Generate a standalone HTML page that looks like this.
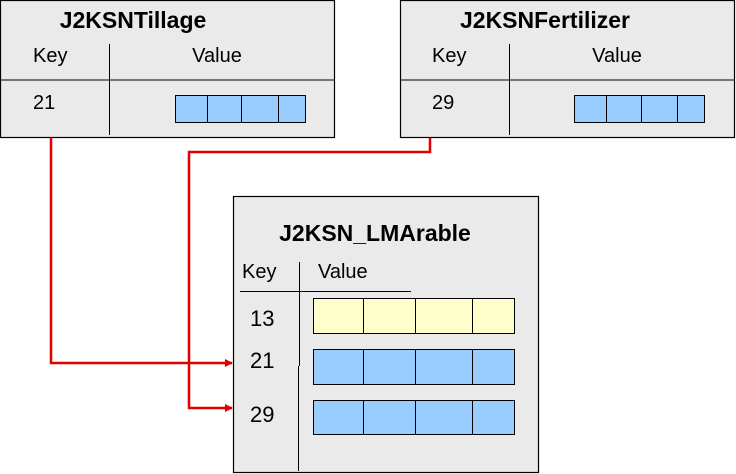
<!DOCTYPE html>
<html><head><meta charset="utf-8"><style>
html,body{margin:0;padding:0;background:#fff;width:736px;height:474px;overflow:hidden}
svg text{font-family:"Liberation Sans",Arial,sans-serif;fill:#000}
</style></head><body>
<svg width="736" height="474" viewBox="0 0 736 474" xmlns="http://www.w3.org/2000/svg">
<defs>
<marker id="ah" markerWidth="8" markerHeight="8" refX="7" refY="4" orient="auto" markerUnits="userSpaceOnUse">
<path d="M0,0 L8,4 L0,8 z" fill="#e00000"/></marker>
</defs>
<g>
<rect x="0.5" y="0.5" width="334" height="137" fill="#eaeaea" stroke="#000" stroke-width="1.2"/>
<text x="133" y="28" font-size="23" font-weight="bold" text-anchor="middle">J2KSNTillage</text>
<text x="33" y="62" font-size="20">Key</text>
<text x="217" y="62" font-size="20" text-anchor="middle">Value</text>
<line x1="0" y1="80" x2="335" y2="80" stroke="#000"/>
<line x1="109.5" y1="44" x2="109.5" y2="135" stroke="#000"/>
<text x="33" y="109" font-size="20">21</text>
<g stroke="#000" fill="#99ccff">
<rect x="175.5" y="95.5" width="32" height="27"/><rect x="207.5" y="95.5" width="34" height="27"/><rect x="241.5" y="95.5" width="37" height="27"/><rect x="278.5" y="95.5" width="27" height="27"/>
</g></g>
<g>
<rect x="400.5" y="0.5" width="334" height="137" fill="#eaeaea" stroke="#000" stroke-width="1.2"/>
<text x="545" y="28" font-size="23" font-weight="bold" text-anchor="middle">J2KSNFertilizer</text>
<text x="432" y="62" font-size="20">Key</text>
<text x="617" y="62" font-size="20" text-anchor="middle">Value</text>
<line x1="400" y1="80" x2="735" y2="80" stroke="#000"/>
<line x1="509.5" y1="44" x2="509.5" y2="135" stroke="#000"/>
<text x="432" y="109" font-size="20">29</text>
<g stroke="#000" fill="#99ccff">
<rect x="574.5" y="95.5" width="32" height="27"/><rect x="606.5" y="95.5" width="35" height="27"/><rect x="641.5" y="95.5" width="36" height="27"/><rect x="677.5" y="95.5" width="27" height="27"/>
</g></g>
<g>
<rect x="233.5" y="196.5" width="305" height="276" fill="#eaeaea" stroke="#000" stroke-width="1.2"/>
<text x="375" y="241" font-size="23" font-weight="bold" text-anchor="middle">J2KSN_LMArable</text>
<text x="242" y="278" font-size="20">Key</text>
<text x="318" y="278" font-size="20">Value</text>
<line x1="240" y1="291.5" x2="411" y2="291.5" stroke="#000"/>
<line x1="299.5" y1="262" x2="299.5" y2="366" stroke="#000"/>
<line x1="298.5" y1="366" x2="298.5" y2="471" stroke="#000"/>
<text x="250" y="326" font-size="22">13</text>
<text x="250" y="368" font-size="22">21</text>
<text x="250" y="422" font-size="22">29</text>
<g stroke="#000" fill="#ffffcc">
<rect x="313.5" y="298.5" width="50" height="35"/><rect x="363.5" y="298.5" width="52" height="35"/><rect x="415.5" y="298.5" width="57" height="35"/><rect x="472.5" y="298.5" width="42" height="35"/>
</g>
<g stroke="#000" fill="#99ccff">
<rect x="313.5" y="349.5" width="50" height="35"/><rect x="363.5" y="349.5" width="52" height="35"/><rect x="415.5" y="349.5" width="57" height="35"/><rect x="472.5" y="349.5" width="42" height="35"/>
</g>
<g stroke="#000" fill="#99ccff">
<rect x="313.5" y="400.5" width="50" height="34"/><rect x="363.5" y="400.5" width="52" height="34"/><rect x="415.5" y="400.5" width="57" height="34"/><rect x="472.5" y="400.5" width="42" height="34"/>
</g></g>
<path d="M51,138 L51,363 L232,363" fill="none" stroke="#e00000" stroke-width="2.5" marker-end="url(#ah)"/>
<path d="M430,138 L430,152 L189,152 L189,408 L232,408" fill="none" stroke="#e00000" stroke-width="2.5" marker-end="url(#ah)"/>
</svg>
</body></html>
